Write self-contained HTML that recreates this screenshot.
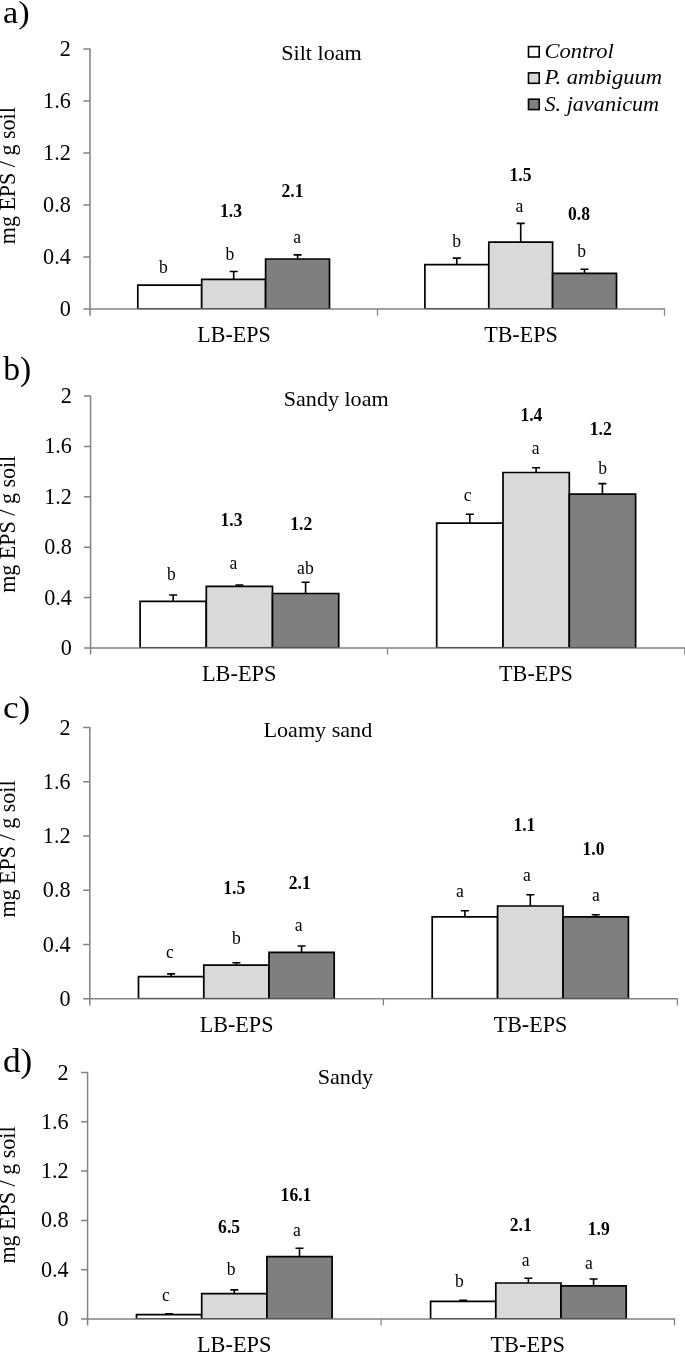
<!DOCTYPE html>
<html><head><meta charset="utf-8"><title>EPS by soil type</title>
<style>
html,body{margin:0;padding:0;background:#fff;}
svg{display:block;font-family:"Liberation Serif", serif;fill:#000;}
</style></head>
<body>
<svg width="685" height="1352" viewBox="0 0 685 1352">
<rect width="685" height="1352" fill="#fff" stroke="none"/>
<path d="M137.8 309.05V285.2H201.7V309.05" fill="#ffffff" stroke="#000" stroke-width="1.7"/>
<text transform="translate(163.5 273.0) scale(0.935 1)" font-size="18.82" text-anchor="middle">b</text>
<path d="M233.7 279.4V271.5M229.7 271.5H237.7" stroke="#000" stroke-width="1.6" fill="none"/>
<path d="M201.7 309.05V279.4H265.6V309.05" fill="#d9d9d9" stroke="#000" stroke-width="1.7"/>
<text transform="translate(229.9 260.1) scale(0.935 1)" font-size="18.82" text-anchor="middle">b</text>
<path d="M297.6 259.0V254.9M293.6 254.9H301.6" stroke="#000" stroke-width="1.6" fill="none"/>
<path d="M265.6 309.05V259.0H329.5V309.05" fill="#7f7f7f" stroke="#000" stroke-width="1.7"/>
<text transform="translate(297.2 242.6) scale(0.935 1)" font-size="18.82" text-anchor="middle">a</text>
<text transform="translate(231.0 216.6) scale(0.935 1)" font-size="18.82" text-anchor="middle" font-weight="bold">1.3</text>
<text transform="translate(292.5 196.8) scale(0.935 1)" font-size="18.82" text-anchor="middle" font-weight="bold">2.1</text>
<text transform="translate(234.0 342.2) scale(0.935 1)" font-size="22.99" text-anchor="middle" textLength="78.6" lengthAdjust="spacingAndGlyphs">LB-EPS</text>
<path d="M456.8 264.6V258.1M452.8 258.1H460.8" stroke="#000" stroke-width="1.6" fill="none"/>
<path d="M424.9 309.05V264.6H488.8V309.05" fill="#ffffff" stroke="#000" stroke-width="1.7"/>
<text transform="translate(456.6 246.8) scale(0.935 1)" font-size="18.82" text-anchor="middle">b</text>
<path d="M520.7 242.2V223.4M516.7 223.4H524.7" stroke="#000" stroke-width="1.6" fill="none"/>
<path d="M488.8 309.05V242.2H552.6V309.05" fill="#d9d9d9" stroke="#000" stroke-width="1.7"/>
<text transform="translate(519.3 212.2) scale(0.935 1)" font-size="18.82" text-anchor="middle">a</text>
<path d="M584.5 273.4V269.3M580.5 269.3H588.5" stroke="#000" stroke-width="1.6" fill="none"/>
<path d="M552.6 309.05V273.4H616.5V309.05" fill="#7f7f7f" stroke="#000" stroke-width="1.7"/>
<text transform="translate(581.7 257.0) scale(0.935 1)" font-size="18.82" text-anchor="middle">b</text>
<text transform="translate(520.5 181.0) scale(0.935 1)" font-size="18.82" text-anchor="middle" font-weight="bold">1.5</text>
<text transform="translate(579.0 219.6) scale(0.935 1)" font-size="18.82" text-anchor="middle" font-weight="bold">0.8</text>
<text transform="translate(520.9 342.2) scale(0.935 1)" font-size="22.99" text-anchor="middle" textLength="78.6" lengthAdjust="spacingAndGlyphs">TB-EPS</text>
<path d="M377.50 309.05v6.6M664.50 309.05v6.6" stroke="#838383" stroke-width="1.25" fill="none"/>
<path d="M90.00 48.25V315.65M83.40 309.05H665.10M83.40 49.00h6.6M83.40 101.01h6.6M83.40 153.02h6.6M83.40 205.03h6.6M83.40 257.04h6.6" stroke="#838383" stroke-width="1.5" fill="none"/>
<path d="M137.0 308.60H330.4M424.0 308.60H617.3" stroke="#505050" stroke-width="1.0" fill="none"/>
<text transform="translate(70.8 56.4) scale(0.935 1)" font-size="23.74" text-anchor="end">2</text>
<text transform="translate(70.8 108.4) scale(0.935 1)" font-size="23.74" text-anchor="end">1.6</text>
<text transform="translate(70.8 160.4) scale(0.935 1)" font-size="23.74" text-anchor="end">1.2</text>
<text transform="translate(70.8 212.4) scale(0.935 1)" font-size="23.74" text-anchor="end">0.8</text>
<text transform="translate(70.8 264.4) scale(0.935 1)" font-size="23.74" text-anchor="end">0.4</text>
<text transform="translate(70.8 316.4) scale(0.935 1)" font-size="23.74" text-anchor="end">0</text>
<text transform="translate(15.3 175.7) rotate(-90) scale(0.935 1)" font-size="23.32" text-anchor="middle" textLength="146.6" lengthAdjust="spacingAndGlyphs">mg EPS / g soil</text>
<text transform="translate(3.1 23.4)" font-size="32" textLength="26.6" lengthAdjust="spacingAndGlyphs">a)</text>
<text transform="translate(281.2 60.2)" font-size="21.8" textLength="80.6" lengthAdjust="spacingAndGlyphs">Silt loam</text>
<path d="M173.2 601.3V595.0M169.2 595.0H177.2" stroke="#000" stroke-width="1.6" fill="none"/>
<path d="M140.1 647.90V601.3H206.3V647.90" fill="#ffffff" stroke="#000" stroke-width="1.7"/>
<text transform="translate(171.4 579.7) scale(0.935 1)" font-size="18.82" text-anchor="middle">b</text>
<path d="M239.4 586.4V585.0M235.4 585.0H243.4" stroke="#000" stroke-width="1.6" fill="none"/>
<path d="M206.3 647.90V586.4H272.5V647.90" fill="#d9d9d9" stroke="#000" stroke-width="1.7"/>
<text transform="translate(233.5 569.0) scale(0.935 1)" font-size="18.82" text-anchor="middle">a</text>
<path d="M305.6 593.5V582.3M301.6 582.3H309.6" stroke="#000" stroke-width="1.6" fill="none"/>
<path d="M272.5 647.90V593.5H338.7V647.90" fill="#7f7f7f" stroke="#000" stroke-width="1.7"/>
<text transform="translate(305.4 573.7) scale(0.935 1)" font-size="18.82" text-anchor="middle">ab</text>
<text transform="translate(231.5 526.2) scale(0.935 1)" font-size="18.82" text-anchor="middle" font-weight="bold">1.3</text>
<text transform="translate(301.3 529.8) scale(0.935 1)" font-size="18.82" text-anchor="middle" font-weight="bold">1.2</text>
<text transform="translate(239.2 680.7) scale(0.935 1)" font-size="22.99" text-anchor="middle" textLength="79.8" lengthAdjust="spacingAndGlyphs">LB-EPS</text>
<path d="M469.8 523.2V514.2M465.8 514.2H473.8" stroke="#000" stroke-width="1.6" fill="none"/>
<path d="M436.7 647.90V523.2H503.0V647.90" fill="#ffffff" stroke="#000" stroke-width="1.7"/>
<text transform="translate(467.6 500.8) scale(0.935 1)" font-size="18.82" text-anchor="middle">c</text>
<path d="M536.1 472.5V467.8M532.1 467.8H540.1" stroke="#000" stroke-width="1.6" fill="none"/>
<path d="M503.0 647.90V472.5H569.3V647.90" fill="#d9d9d9" stroke="#000" stroke-width="1.7"/>
<text transform="translate(535.7 454.3) scale(0.935 1)" font-size="18.82" text-anchor="middle">a</text>
<path d="M602.4 494.2V483.6M598.4 483.6H606.4" stroke="#000" stroke-width="1.6" fill="none"/>
<path d="M569.3 647.90V494.2H635.6V647.90" fill="#7f7f7f" stroke="#000" stroke-width="1.7"/>
<text transform="translate(602.6 473.7) scale(0.935 1)" font-size="18.82" text-anchor="middle">b</text>
<text transform="translate(531.4 421.2) scale(0.935 1)" font-size="18.82" text-anchor="middle" font-weight="bold">1.4</text>
<text transform="translate(600.7 434.8) scale(0.935 1)" font-size="18.82" text-anchor="middle" font-weight="bold">1.2</text>
<text transform="translate(536.0 681.3) scale(0.935 1)" font-size="22.99" text-anchor="middle" textLength="79.0" lengthAdjust="spacingAndGlyphs">TB-EPS</text>
<path d="M387.50 647.90v6.6M684.80 647.90v6.6" stroke="#838383" stroke-width="1.25" fill="none"/>
<path d="M90.60 395.25V654.50M84.00 647.90H685.40M84.00 396.00h6.6M84.00 446.38h6.6M84.00 496.76h6.6M84.00 547.14h6.6M84.00 597.52h6.6" stroke="#838383" stroke-width="1.5" fill="none"/>
<path d="M139.2 647.45H339.6M435.8 647.45H636.4" stroke="#505050" stroke-width="1.0" fill="none"/>
<text transform="translate(71.9 403.0) scale(0.935 1)" font-size="23.74" text-anchor="end">2</text>
<text transform="translate(71.9 453.4) scale(0.935 1)" font-size="23.74" text-anchor="end">1.6</text>
<text transform="translate(71.9 503.8) scale(0.935 1)" font-size="23.74" text-anchor="end">1.2</text>
<text transform="translate(71.9 554.1) scale(0.935 1)" font-size="23.74" text-anchor="end">0.8</text>
<text transform="translate(71.9 604.5) scale(0.935 1)" font-size="23.74" text-anchor="end">0.4</text>
<text transform="translate(71.9 654.9) scale(0.935 1)" font-size="23.74" text-anchor="end">0</text>
<text transform="translate(15.3 524.3) rotate(-90) scale(0.935 1)" font-size="23.32" text-anchor="middle" textLength="146.6" lengthAdjust="spacingAndGlyphs">mg EPS / g soil</text>
<text transform="translate(3.3 379.5)" font-size="33" textLength="28.0" lengthAdjust="spacingAndGlyphs">b)</text>
<text transform="translate(283.8 406.3)" font-size="21.8" textLength="104.8" lengthAdjust="spacingAndGlyphs">Sandy loam</text>
<path d="M171.1 976.6V973.9M167.1 973.9H175.1" stroke="#000" stroke-width="1.6" fill="none"/>
<path d="M138.5 998.80V976.6H203.8V998.80" fill="#ffffff" stroke="#000" stroke-width="1.7"/>
<text transform="translate(170.0 957.5) scale(0.935 1)" font-size="18.82" text-anchor="middle">c</text>
<path d="M236.4 965.2V962.8M232.4 962.8H240.4" stroke="#000" stroke-width="1.6" fill="none"/>
<path d="M203.8 998.80V965.2H269.0V998.80" fill="#d9d9d9" stroke="#000" stroke-width="1.7"/>
<text transform="translate(236.5 943.5) scale(0.935 1)" font-size="18.82" text-anchor="middle">b</text>
<path d="M301.6 952.3V946.0M297.6 946.0H305.6" stroke="#000" stroke-width="1.6" fill="none"/>
<path d="M269.0 998.80V952.3H334.2V998.80" fill="#7f7f7f" stroke="#000" stroke-width="1.7"/>
<text transform="translate(298.6 930.7) scale(0.935 1)" font-size="18.82" text-anchor="middle">a</text>
<text transform="translate(234.2 894.0) scale(0.935 1)" font-size="18.82" text-anchor="middle" font-weight="bold">1.5</text>
<text transform="translate(299.7 888.6) scale(0.935 1)" font-size="18.82" text-anchor="middle" font-weight="bold">2.1</text>
<text transform="translate(236.6 1032.2) scale(0.935 1)" font-size="22.99" text-anchor="middle" textLength="78.9" lengthAdjust="spacingAndGlyphs">LB-EPS</text>
<path d="M464.9 916.8V910.8M460.9 910.8H468.9" stroke="#000" stroke-width="1.6" fill="none"/>
<path d="M432.2 998.80V916.8H497.6V998.80" fill="#ffffff" stroke="#000" stroke-width="1.7"/>
<text transform="translate(459.8 896.5) scale(0.935 1)" font-size="18.82" text-anchor="middle">a</text>
<path d="M530.3 906.0V894.7M526.3 894.7H534.3" stroke="#000" stroke-width="1.6" fill="none"/>
<path d="M497.6 998.80V906.0H563.0V998.80" fill="#d9d9d9" stroke="#000" stroke-width="1.7"/>
<text transform="translate(526.8 881.2) scale(0.935 1)" font-size="18.82" text-anchor="middle">a</text>
<path d="M595.7 916.8V914.8M591.7 914.8H599.7" stroke="#000" stroke-width="1.6" fill="none"/>
<path d="M563.0 998.80V916.8H628.4V998.80" fill="#7f7f7f" stroke="#000" stroke-width="1.7"/>
<text transform="translate(595.9 901.3) scale(0.935 1)" font-size="18.82" text-anchor="middle">a</text>
<text transform="translate(524.4 830.8) scale(0.935 1)" font-size="18.82" text-anchor="middle" font-weight="bold">1.1</text>
<text transform="translate(593.5 855.3) scale(0.935 1)" font-size="18.82" text-anchor="middle" font-weight="bold">1.0</text>
<text transform="translate(530.4 1031.8) scale(0.935 1)" font-size="22.99" text-anchor="middle" textLength="78.6" lengthAdjust="spacingAndGlyphs">TB-EPS</text>
<path d="M383.40 998.80v6.6M677.40 998.80v6.6" stroke="#838383" stroke-width="1.25" fill="none"/>
<path d="M89.80 726.75V1005.40M83.20 998.80H678.00M83.20 727.50h6.6M83.20 781.76h6.6M83.20 836.02h6.6M83.20 890.28h6.6M83.20 944.54h6.6" stroke="#838383" stroke-width="1.5" fill="none"/>
<path d="M137.7 998.35H335.1M431.3 998.35H629.2" stroke="#505050" stroke-width="1.0" fill="none"/>
<text transform="translate(70.6 734.5) scale(0.935 1)" font-size="23.74" text-anchor="end">2</text>
<text transform="translate(70.6 788.8) scale(0.935 1)" font-size="23.74" text-anchor="end">1.6</text>
<text transform="translate(70.6 843.0) scale(0.935 1)" font-size="23.74" text-anchor="end">1.2</text>
<text transform="translate(70.6 897.3) scale(0.935 1)" font-size="23.74" text-anchor="end">0.8</text>
<text transform="translate(70.6 951.5) scale(0.935 1)" font-size="23.74" text-anchor="end">0.4</text>
<text transform="translate(70.6 1005.8) scale(0.935 1)" font-size="23.74" text-anchor="end">0</text>
<text transform="translate(15.3 849.0) rotate(-90) scale(0.935 1)" font-size="23.32" text-anchor="middle" textLength="146.6" lengthAdjust="spacingAndGlyphs">mg EPS / g soil</text>
<text transform="translate(2.9 717.9)" font-size="32.5" textLength="27.4" lengthAdjust="spacingAndGlyphs">c)</text>
<text transform="translate(263.5 737.2)" font-size="21.8" textLength="108.7" lengthAdjust="spacingAndGlyphs">Loamy sand</text>
<path d="M169.1 1314.7V1313.7M165.1 1313.7H173.1" stroke="#000" stroke-width="1.6" fill="none"/>
<path d="M136.5 1319.00V1314.7H201.7V1319.00" fill="#ffffff" stroke="#000" stroke-width="1.7"/>
<text transform="translate(166.0 1300.8) scale(0.935 1)" font-size="18.82" text-anchor="middle">c</text>
<path d="M234.3 1293.6V1289.9M230.3 1289.9H238.3" stroke="#000" stroke-width="1.6" fill="none"/>
<path d="M201.7 1319.00V1293.6H266.9V1319.00" fill="#d9d9d9" stroke="#000" stroke-width="1.7"/>
<text transform="translate(231.1 1274.6) scale(0.935 1)" font-size="18.82" text-anchor="middle">b</text>
<path d="M299.5 1256.6V1248.2M295.5 1248.2H303.5" stroke="#000" stroke-width="1.6" fill="none"/>
<path d="M266.9 1319.00V1256.6H332.1V1319.00" fill="#7f7f7f" stroke="#000" stroke-width="1.7"/>
<text transform="translate(297.0 1236.0) scale(0.935 1)" font-size="18.82" text-anchor="middle">a</text>
<text transform="translate(229.1 1233.1) scale(0.935 1)" font-size="18.82" text-anchor="middle" font-weight="bold">6.5</text>
<text transform="translate(296.0 1201.2) scale(0.935 1)" font-size="18.82" text-anchor="middle" font-weight="bold">16.1</text>
<text transform="translate(234.2 1351.9) scale(0.935 1)" font-size="22.99" text-anchor="middle" textLength="79.7" lengthAdjust="spacingAndGlyphs">LB-EPS</text>
<path d="M463.2 1301.4V1300.4M459.2 1300.4H467.2" stroke="#000" stroke-width="1.6" fill="none"/>
<path d="M430.6 1319.00V1301.4H495.8V1319.00" fill="#ffffff" stroke="#000" stroke-width="1.7"/>
<text transform="translate(459.4 1287.3) scale(0.935 1)" font-size="18.82" text-anchor="middle">b</text>
<path d="M528.4 1283.0V1278.2M524.4 1278.2H532.4" stroke="#000" stroke-width="1.6" fill="none"/>
<path d="M495.8 1319.00V1283.0H561.0V1319.00" fill="#d9d9d9" stroke="#000" stroke-width="1.7"/>
<text transform="translate(525.6 1266.4) scale(0.935 1)" font-size="18.82" text-anchor="middle">a</text>
<path d="M593.6 1285.8V1279.0M589.6 1279.0H597.6" stroke="#000" stroke-width="1.6" fill="none"/>
<path d="M561.0 1319.00V1285.8H626.2V1319.00" fill="#7f7f7f" stroke="#000" stroke-width="1.7"/>
<text transform="translate(589.0 1269.3) scale(0.935 1)" font-size="18.82" text-anchor="middle">a</text>
<text transform="translate(520.8 1230.5) scale(0.935 1)" font-size="18.82" text-anchor="middle" font-weight="bold">2.1</text>
<text transform="translate(598.7 1234.5) scale(0.935 1)" font-size="18.82" text-anchor="middle" font-weight="bold">1.9</text>
<text transform="translate(527.7 1351.9) scale(0.935 1)" font-size="22.99" text-anchor="middle" textLength="79.7" lengthAdjust="spacingAndGlyphs">TB-EPS</text>
<path d="M381.10 1319.00v6.6M674.50 1319.00v6.6" stroke="#838383" stroke-width="1.25" fill="none"/>
<path d="M87.60 1071.75V1325.60M81.00 1319.00H675.10M81.00 1072.50h6.6M81.00 1121.80h6.6M81.00 1171.10h6.6M81.00 1220.40h6.6M81.00 1269.70h6.6" stroke="#838383" stroke-width="1.5" fill="none"/>
<path d="M135.7 1318.55H333.0M429.8 1318.55H627.1" stroke="#505050" stroke-width="1.0" fill="none"/>
<text transform="translate(68.7 1079.5) scale(0.935 1)" font-size="23.74" text-anchor="end">2</text>
<text transform="translate(68.7 1128.8) scale(0.935 1)" font-size="23.74" text-anchor="end">1.6</text>
<text transform="translate(68.7 1178.1) scale(0.935 1)" font-size="23.74" text-anchor="end">1.2</text>
<text transform="translate(68.7 1227.4) scale(0.935 1)" font-size="23.74" text-anchor="end">0.8</text>
<text transform="translate(68.7 1276.7) scale(0.935 1)" font-size="23.74" text-anchor="end">0.4</text>
<text transform="translate(68.7 1326.0) scale(0.935 1)" font-size="23.74" text-anchor="end">0</text>
<text transform="translate(15.3 1195.0) rotate(-90) scale(0.935 1)" font-size="23.32" text-anchor="middle" textLength="146.6" lengthAdjust="spacingAndGlyphs">mg EPS / g soil</text>
<text transform="translate(2.9 1071.5)" font-size="33" textLength="29.5" lengthAdjust="spacingAndGlyphs">d)</text>
<text transform="translate(317.7 1084.1)" font-size="21.8" textLength="55.4" lengthAdjust="spacingAndGlyphs">Sandy</text>
<rect x="528.5" y="46.6" width="10.7" height="10.4" fill="#ffffff" stroke="#000" stroke-width="1.6"/>
<text transform="translate(544.5 57.9)" font-size="21.8" font-style="italic" textLength="69.2" lengthAdjust="spacingAndGlyphs">Control</text>
<rect x="528.5" y="72.9" width="10.7" height="10.4" fill="#d9d9d9" stroke="#000" stroke-width="1.6"/>
<text transform="translate(544.5 84.2)" font-size="21.8" font-style="italic" textLength="117.6" lengthAdjust="spacingAndGlyphs">P. ambiguum</text>
<rect x="528.5" y="99.2" width="10.7" height="10.4" fill="#7f7f7f" stroke="#000" stroke-width="1.6"/>
<text transform="translate(544.5 110.5)" font-size="21.8" font-style="italic" textLength="114.6" lengthAdjust="spacingAndGlyphs">S. javanicum</text>
</svg>
</body></html>
